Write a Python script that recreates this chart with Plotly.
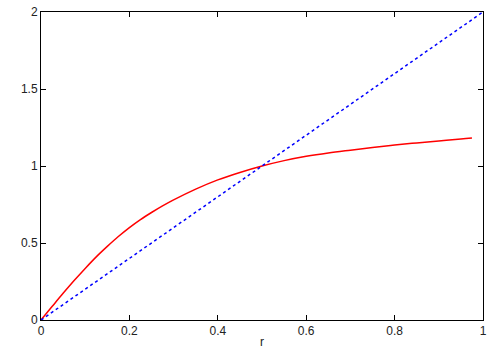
import plotly.graph_objects as go

# Red curve values
r_vals = [0, 0.025, 0.05, 0.075, 0.1, 0.125, 0.15, 0.175, 0.2, 0.225, 0.25, 0.275,
          0.3, 0.35, 0.4, 0.45, 0.5, 0.55, 0.6, 0.65, 0.7, 0.75, 0.8, 0.85, 0.9,
          0.95, 0.975]
f_vals = [0, 0.087, 0.173, 0.256, 0.335, 0.41, 0.478, 0.542, 0.6, 0.652, 0.698,
          0.741, 0.78, 0.85, 0.91, 0.958, 1.0, 1.035, 1.063, 1.085, 1.103, 1.12,
          1.136, 1.15, 1.163, 1.175, 1.182]

# Blue dotted diagonal line
line_r = [0, 1]
line_y = [0, 2]

x_ticks = [0, 0.2, 0.4, 0.6, 0.8, 1]
x_tick_labels = ["0", "0.2", "0.4", "0.6", "0.8", "1"]
y_ticks = [0, 0.5, 1, 1.5, 2]
y_tick_labels = ["0", "0.5", "1", "1.5", "2"]

fig = go.Figure()
fig.add_trace(go.Scatter(x=r_vals, y=f_vals, mode="lines",
                         line=dict(color="#ff0000", width=1.5, shape="spline",
                                   smoothing=1.0),
                         showlegend=False))
fig.add_trace(go.Scatter(x=line_r, y=line_y, mode="lines",
                         line=dict(color="#0000ff", width=1.5, dash="dot"),
                         showlegend=False))

axis_common = dict(showgrid=False, zeroline=False, showline=True, linecolor="black",
                   linewidth=1, mirror="ticks", ticks="inside", ticklen=5,
                   tickcolor="black", tickfont=dict(size=12, color="#222"))

fig.update_xaxes(range=[0, 1], tickvals=x_ticks, ticktext=x_tick_labels,
                 title=dict(text="r", font=dict(size=12, color="#222"), standoff=0),
                 **axis_common)
fig.update_yaxes(range=[0, 2], tickvals=y_ticks, ticktext=y_tick_labels,
                 **axis_common)

fig.update_layout(width=500, height=350,
                  margin=dict(l=40.5, r=16.5, t=11.5, b=29.5, autoexpand=False),
                  plot_bgcolor="white", paper_bgcolor="white",
                  font=dict(family="Liberation Sans, Arial, sans-serif", size=12))

fig.write_html("out.html", config={"displayModeBar": False},
               post_script="document.body.style.margin='0';document.body.style.overflow='hidden';")
